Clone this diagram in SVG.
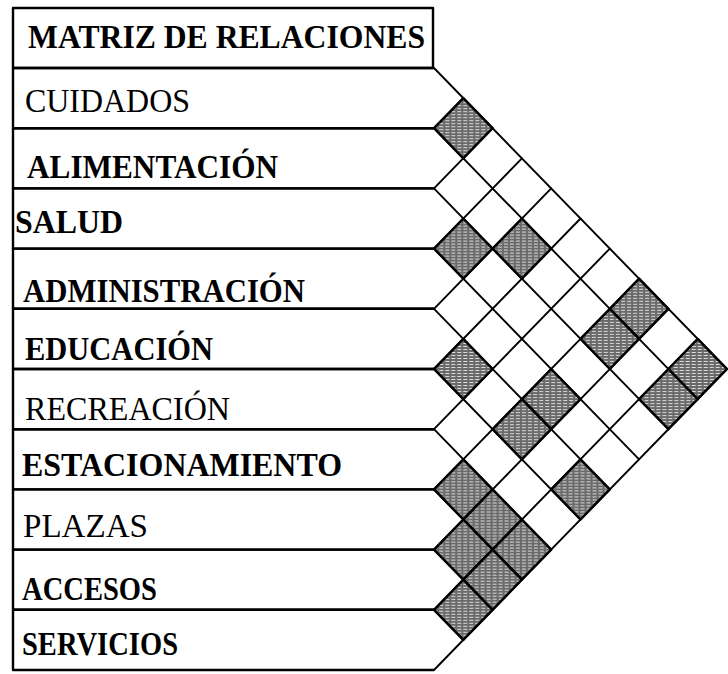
<svg xmlns="http://www.w3.org/2000/svg" width="728" height="674" viewBox="0 0 728 674">
  <style>
    .box { fill: none; stroke: #000; stroke-width: 2.4; stroke-linejoin: round; }
    .lbl { font-family: "Liberation Serif", "Times New Roman", serif; font-size: 34px; fill: #000; }
    .b { font-weight: bold; }
    .grid line { stroke: #000; stroke-width: 1.9; stroke-linecap: round; }
    .cells use { fill: url(#tex); stroke: #000; stroke-width: 2.4; stroke-linejoin: round; }
  </style>
  <defs>
    <pattern id="tex" width="6" height="3" patternUnits="userSpaceOnUse">
      <rect width="6" height="3" fill="#6a6a6a"/>
      <rect x="0" y="1" width="4" height="1" fill="#ffffff" opacity="0.75"/>
    </pattern>
    <path id="cell" d="M-29.3,0 L0,-30.1 L29.3,0 L0,30.1 Z"/>
  </defs>

  <rect width="728" height="674" fill="#fff"/>

  <g id="header">
    <rect class="box" x="13" y="8" width="420" height="60"/>
    <text class="lbl b" x="28" y="48" textLength="397" lengthAdjust="spacingAndGlyphs">MATRIZ DE RELACIONES</text>
  </g>
  <g id="cuidados">
    <path class="box" d="M434,68 H13 V128.2 H434"/>
    <text class="lbl" x="25" y="112" textLength="165" lengthAdjust="spacingAndGlyphs">CUIDADOS</text>
  </g>
  <g id="alimentacion">
    <path class="box" d="M434,128.2 H13 V188.4 H434"/>
    <text class="lbl b" x="27" y="178" textLength="251" lengthAdjust="spacingAndGlyphs">ALIMENTACIÓN</text>
  </g>
  <g id="salud">
    <path class="box" d="M434,188.4 H13 V248.6 H434"/>
    <text class="lbl b" x="15" y="233" textLength="108" lengthAdjust="spacingAndGlyphs">SALUD</text>
  </g>
  <g id="administracion">
    <path class="box" d="M434,248.6 H13 V308.8 H434"/>
    <text class="lbl b" x="23" y="302" textLength="282" lengthAdjust="spacingAndGlyphs">ADMINISTRACIÓN</text>
  </g>
  <g id="educacion">
    <path class="box" d="M434,308.8 H13 V369 H434"/>
    <text class="lbl b" x="25" y="360" textLength="188" lengthAdjust="spacingAndGlyphs">EDUCACIÓN</text>
  </g>
  <g id="recreacion">
    <path class="box" d="M434,369 H13 V429.2 H434"/>
    <text class="lbl" x="25" y="420" textLength="205" lengthAdjust="spacingAndGlyphs">RECREACIÓN</text>
  </g>
  <g id="estacionamiento">
    <path class="box" d="M434,429.2 H13 V489.4 H434"/>
    <text class="lbl b" x="22" y="476" textLength="320" lengthAdjust="spacingAndGlyphs">ESTACIONAMIENTO</text>
  </g>
  <g id="plazas">
    <path class="box" d="M434,489.4 H13 V549.6 H434"/>
    <text class="lbl" x="23" y="537" textLength="125" lengthAdjust="spacingAndGlyphs">PLAZAS</text>
  </g>
  <g id="accesos">
    <path class="box" d="M434,549.6 H13 V609.8 H434"/>
    <text class="lbl b" x="22" y="600" textLength="135" lengthAdjust="spacingAndGlyphs">ACCESOS</text>
  </g>
  <g id="servicios">
    <path class="box" d="M434,609.8 H13 V670 H434"/>
    <text class="lbl b" x="22" y="655" textLength="156" lengthAdjust="spacingAndGlyphs">SERVICIOS</text>
  </g>

  <g id="relations" class="cells">
    <use href="#cell" x="463.3" y="128.2"/>
    <use href="#cell" x="463.3" y="248.6"/>
    <use href="#cell" x="521.9" y="248.6"/>
    <use href="#cell" x="639.1" y="308.8"/>
    <use href="#cell" x="609.8" y="338.9"/>
    <use href="#cell" x="697.7" y="369"/>
    <use href="#cell" x="668.4" y="399.1"/>
    <use href="#cell" x="463.3" y="369"/>
    <use href="#cell" x="551.2" y="399.1"/>
    <use href="#cell" x="521.9" y="429.2"/>
    <use href="#cell" x="463.3" y="489.4"/>
    <use href="#cell" x="580.5" y="489.4"/>
    <use href="#cell" x="492.6" y="519.5"/>
    <use href="#cell" x="521.9" y="549.6"/>
    <use href="#cell" x="463.3" y="549.6"/>
    <use href="#cell" x="492.6" y="579.7"/>
    <use href="#cell" x="463.3" y="609.8"/>
  </g>

  <g id="connectors" class="grid">
    <line x1="434" y1="68" x2="727" y2="369"/>
    <line x1="434" y1="128.2" x2="697.7" y2="399.1"/>
    <line x1="434" y1="188.4" x2="668.4" y2="429.2"/>
    <line x1="434" y1="248.6" x2="639.1" y2="459.3"/>
    <line x1="434" y1="308.8" x2="609.8" y2="489.4"/>
    <line x1="434" y1="369" x2="580.5" y2="519.5"/>
    <line x1="434" y1="429.2" x2="551.2" y2="549.6"/>
    <line x1="434" y1="489.4" x2="521.9" y2="579.7"/>
    <line x1="434" y1="549.6" x2="492.6" y2="609.8"/>
    <line x1="434" y1="609.8" x2="463.3" y2="639.9"/>
    <line x1="434" y1="128.2" x2="463.3" y2="98.1"/>
    <line x1="434" y1="188.4" x2="492.6" y2="128.2"/>
    <line x1="434" y1="248.6" x2="521.9" y2="158.3"/>
    <line x1="434" y1="308.8" x2="551.2" y2="188.4"/>
    <line x1="434" y1="369" x2="580.5" y2="218.5"/>
    <line x1="434" y1="429.2" x2="609.8" y2="248.6"/>
    <line x1="434" y1="489.4" x2="639.1" y2="278.7"/>
    <line x1="434" y1="549.6" x2="668.4" y2="308.8"/>
    <line x1="434" y1="609.8" x2="697.7" y2="338.9"/>
    <line x1="434" y1="670" x2="727" y2="369"/>
  </g>
</svg>
